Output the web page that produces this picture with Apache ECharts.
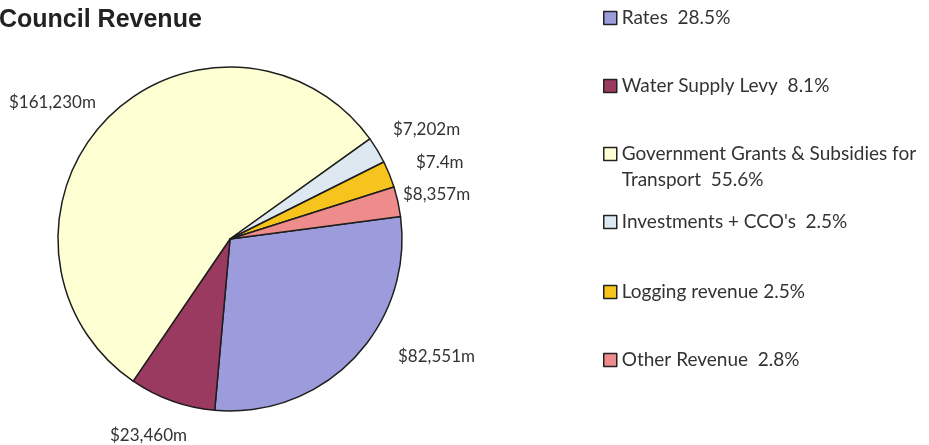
<!DOCTYPE html>
<html>
<head>
<meta charset="utf-8">
<script src="https://cdn.jsdelivr.net/npm/echarts@6/dist/echarts.min.js"></script>
<style>
html,body{margin:0;padding:0;background:#fff;}
#chart{width:929px;height:445px;}
</style>
</head>
<body>
<div id="chart"></div>
<script>
var categories = ['Rates', 'Water Supply Levy', 'Government Grants & Subsidies for Transport', "Investments + CCO's", 'Logging revenue', 'Other Revenue'];
var legendTexts = ['Rates  28.5%', 'Water Supply Levy  8.1%', 'Government Grants & Subsidies for\nTransport  55.6%', "Investments + CCO's  2.5%", 'Logging revenue 2.5%', 'Other Revenue  2.8%'];
var percentages = [28.5, 8.1, 55.6, 2.5, 2.5, 2.8];
var valueLabels = ['$82,551m', '$23,460m', '$161,230m', '$7,202m', '$7.4m', '$8,357m'];

var colors = ['#9c9cdc', '#9b3a60', '#ffffd4', '#dde8f0', '#f6c41c', '#ee8c8c'];
var labelPos = [[398, 357], [110, 436], [9, 103], [393, 130], [416, 163], [403, 195]];
var legendTops = [18, 86, 154, 222, 292, 360];

var chart = echarts.init(document.getElementById('chart'), null, {renderer: 'canvas'});

var LH = 26;
var legends = categories.map(function (c, i) {
  var multi = legendTexts[i].indexOf('\n') >= 0;
  return {
    data: [c],
    left: 603,
    top: legendTops[i] - LH / 2,
    orient: 'vertical',
    itemWidth: 13,
    itemHeight: multi ? 13 + LH : 13,
    icon: multi ? 'path://M0,0L13,0L13,13L0,13ZM0,' + (13 + LH) : 'rect',
    selectedMode: false,
    padding: 0,
    itemStyle: {borderColor: '#222', borderWidth: 1.5},
    formatter: function () { return legendTexts[i]; },
    textStyle: {
      fontFamily: 'Lato',
      fontSize: 19,
      color: '#333',
      lineHeight: LH
    }
  };
});

var option = {
  animation: false,
  color: colors,
  title: {
    text: 'Council Revenue',
    left: -1,
    top: 8,
    padding: 0,
    textStyle: {fontFamily: 'Liberation Sans', fontWeight: 'bold', fontSize: 25, color: '#222'}
  },
  legend: legends,
  series: [{
    type: 'pie',
    center: [230, 239],
    radius: [0, 172],
    startAngle: 7.5,
    clockwise: true,
    avoidLabelOverlap: false,
    itemStyle: {borderColor: '#1e1e1e', borderWidth: 1.5},
    label: {
      show: true,
      position: 'outside',
      fontFamily: 'Lato',
      fontSize: 17,
      color: '#333',
      formatter: function (p) { return valueLabels[p.dataIndex]; }
    },
    labelLine: {show: false},
    labelLayout: function (p) {
      var pos = labelPos[p.dataIndex];
      return {x: pos[0], y: pos[1], align: 'left', verticalAlign: 'middle', hideOverlap: false};
    },
    emphasis: {disabled: true},
    data: categories.map(function (c, i) { return {name: c, value: percentages[i]}; })
  }]
};
chart.setOption(option);
</script>
</body>
</html>
